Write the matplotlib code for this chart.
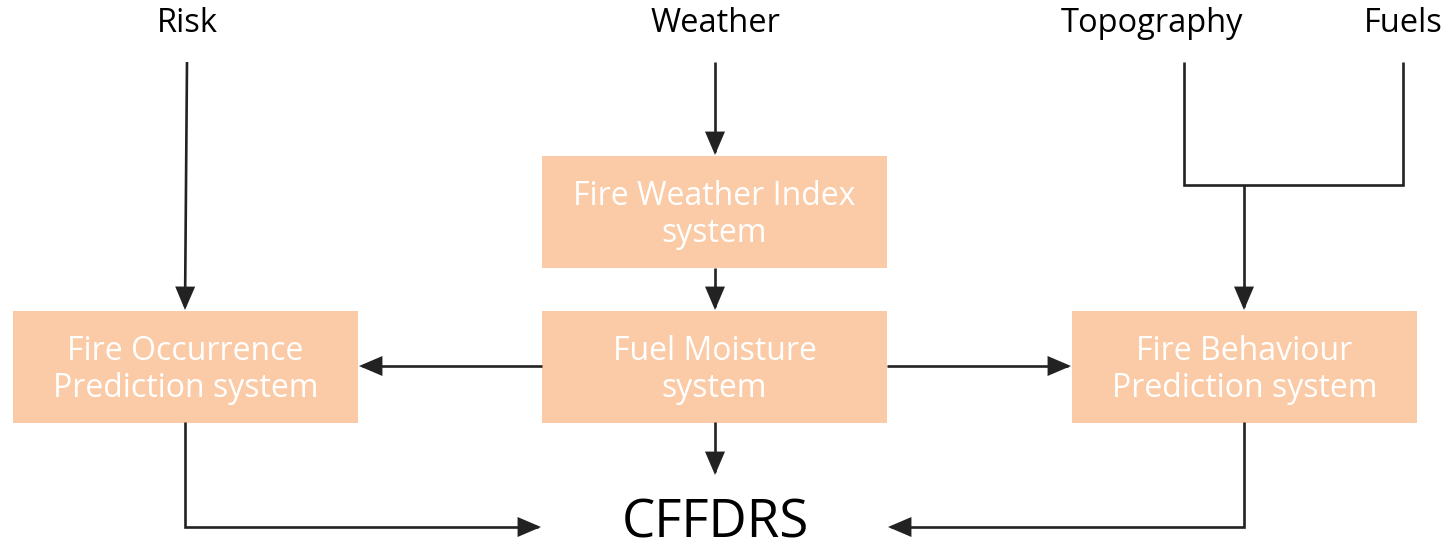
import matplotlib.pyplot as plt
from matplotlib.patches import Rectangle, FancyArrowPatch
from matplotlib.path import Path

# inputs along the top
inputs = ['Risk', 'Weather', 'Topography', 'Fuels']
input_x = [187, 715, 1152, 1403]

# systems (boxes)
systems = ['Fire Weather Index\nsystem', 'Fuel Moisture\nsystem',
           'Fire Occurrence\nPrediction system', 'Fire Behaviour\nPrediction system']
box_xy = [(542, 156), (542, 311), (13, 311), (1072, 311)]
box_w, box_h = 345, 112

output = 'CFFDRS'

BOX_COLOR = '#FACBA6'
LINE = '#222222'
LW = 1.9

plt.rcParams['font.family'] = ['Open Sans', 'DejaVu Sans']

fig = plt.figure(figsize=(14.51, 5.5), dpi=100)
ax = fig.add_axes([0, 0, 1, 1])
ax.set_xlim(0, 1451)
ax.set_ylim(550, 0)
ax.axis('off')

# boxes
for (x, y), label in zip(box_xy, systems):
    ax.add_patch(Rectangle((x, y), box_w, box_h, facecolor=BOX_COLOR, edgecolor='none'))
    ax.text(x + box_w / 2, y + box_h / 2 + 3, label, ha='center', va='center',
            color='white', fontsize=23, linespacing=1.13)

# top labels
for name, x in zip(inputs, input_x):
    ax.text(x, 23, name, ha='center', va='center', fontsize=23.5, color='black')

ax.text(715, 524, output, ha='center', va='center', fontsize=38, color='black')


def line(pts):
    xs, ys = zip(*pts)
    ax.plot(xs, ys, color=LINE, lw=LW, solid_capstyle='butt', solid_joinstyle='miter')


def arrow(*pts):
    ax.add_patch(FancyArrowPatch(path=Path(list(pts)),
                                 arrowstyle='-|>,head_length=0.75,head_width=0.32',
                                 mutation_scale=18, color=LINE, lw=LW,
                                 capstyle='butt', joinstyle='miter'))


# Risk -> Fire Occurrence
arrow((187, 62), (185, 310))
# Weather -> FWI
arrow((715, 62), (715, 155))
# FWI -> Fuel Moisture
arrow((715, 268), (715, 310))
# Fuel Moisture -> sides
arrow((542, 366), (359, 366))
arrow((887, 366), (1071, 366))
# Fuel Moisture -> CFFDRS
arrow((715, 422), (715, 475))
# Topography + Fuels -> Fire Behaviour
line([(1184, 62), (1184, 185), (1403, 185), (1403, 62)])
arrow((1244, 185), (1244, 310))
# Fire Occurrence -> CFFDRS
arrow((185, 422), (185, 527), (541, 527))
# Fire Behaviour -> CFFDRS
arrow((1244, 422), (1244, 527), (888, 527))

fig.savefig('out.png', dpi=100)
